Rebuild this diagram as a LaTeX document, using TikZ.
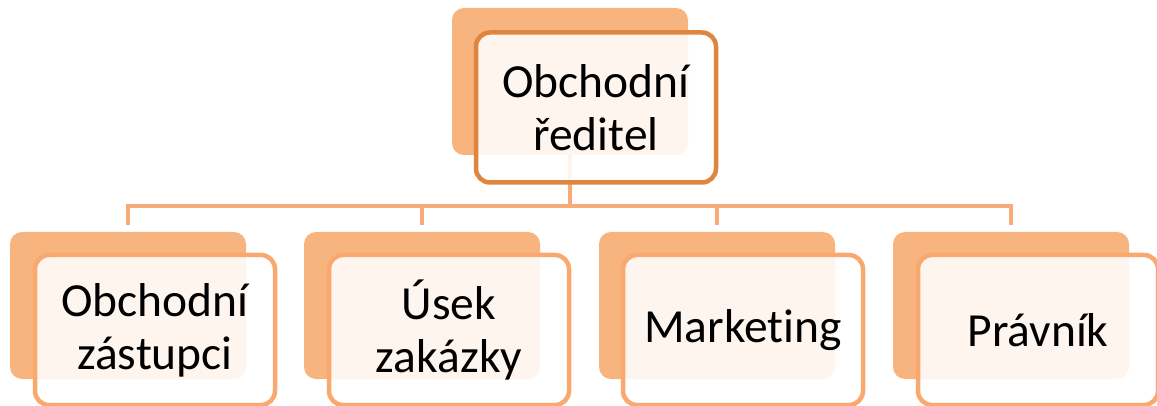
\documentclass[tikz,border=0pt]{standalone}
\usepackage{fontspec}
\setmainfont{Carlito}[Ligatures=NoCommon]
\usetikzlibrary{calc}
\definecolor{backfill}{RGB}{248,180,126}
\definecolor{topstroke}{RGB}{224,133,62}
\definecolor{subcol}{RGB}{249,168,112}
\definecolor{conncol}{RGB}{248,170,120}
\pgfdeclarelayer{bg}
\pgfsetlayers{bg,main}
\tikzset{
  backbox/.style={rectangle, rounded corners=12pt, fill=backfill, draw=none,
    minimum width=236pt, minimum height=147pt, inner sep=0pt},
  frontbox/.style={rectangle, rounded corners=14pt, fill=white, fill opacity=0.88,
    text opacity=1, line width=4.5pt, minimum width=240pt, minimum height=150pt,
    inner sep=0pt, align=center, font=\fontsize{47.5}{53}\selectfont},
  topbox/.style={frontbox, draw=topstroke},
  subbox/.style={frontbox, draw=subcol},
  conn/.style={draw=conncol, line width=3.8pt, line join=miter}
}
\begin{document}
\begin{tikzpicture}[x=1pt,y=-1pt]
\useasboundingbox (0,0) rectangle (1157,406);
% back boxes
\node[backbox] (tb) at (570,81.5) {};
\node[backbox] (b1) at (128,305.5) {};
\node[backbox] (b2) at (422,305.5) {};
\node[backbox] (b3) at (717,305.5) {};
\node[backbox] (b4) at (1011,305.5) {};
% front boxes
\node[topbox] (tf) at (596,107.5) {Obchodní\\ředitel};
\node[subbox] (f1) at (155,330) {Obchodní\\zástupci};
\node[subbox] (f2) at (449,330) {Úsek\\zakázky};
\node[subbox] (f3) at (743,330) {Marketing};
\node[subbox] (f4) at (1038,330) {Právník};
\coordinate (bus) at (0,206);
\begin{pgfonlayer}{bg}
\draw[conn] (tb.south) -- (tb.south |- bus);
\draw[conn] ([yshift=7pt]b1.north) -- (b1.north |- bus) -- (b4.north |- bus) -- ([yshift=7pt]b4.north);
\draw[conn] (b2.north |- bus) -- ([yshift=7pt]b2.north);
\draw[conn] (b3.north |- bus) -- ([yshift=7pt]b3.north);
\end{pgfonlayer}
\end{tikzpicture}
\end{document}
